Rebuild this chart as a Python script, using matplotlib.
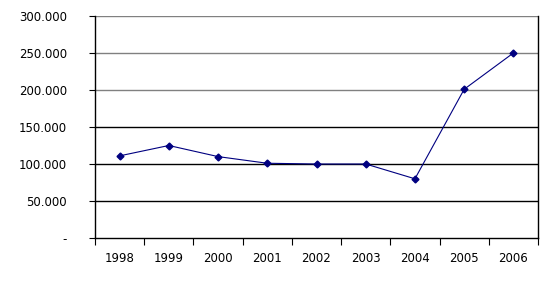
import matplotlib
matplotlib.use("Agg")
import matplotlib.pyplot as plt
from matplotlib.ticker import FuncFormatter, FixedLocator

years = ["1998", "1999", "2000", "2001", "2002", "2003", "2004", "2005", "2006"]
values = [111000, 125000, 110000, 101000, 100000, 100000, 80000, 201000, 250000]
yticks = [0, 50000, 100000, 150000, 200000, 250000, 300000]

fig = plt.figure(figsize=(5.53, 2.85), dpi=100)
ax = fig.add_axes([95/553, 1-238/285, (538-95)/553, (238-16)/285])

x = list(range(len(years)))
ax.plot(x, values, color="#000080", lw=0.8, marker="D", markersize=3.5,
        markerfacecolor="#000080", markeredgecolor="#000080", zorder=3)

ax.set_xlim(-0.5, len(years) - 0.5)
ax.set_ylim(0, 300000)
ax.set_yticks(yticks)

def fmt(v, pos):
    if v == 0:
        return "-"
    return f"{int(v):,}".replace(",", ".")
ax.yaxis.set_major_formatter(FuncFormatter(fmt))

for yv in yticks[1:]:
    c = "#808080" if yv >= 200000 else "black"
    ax.axhline(yv, color=c, lw=1.0, zorder=1)

ax.xaxis.set_major_locator(FixedLocator([i - 0.5 for i in range(len(years) + 1)]))
ax.xaxis.set_minor_locator(FixedLocator(x))
ax.set_xticklabels([])
ax.set_xticklabels(years, minor=True)
ax.tick_params(axis="x", which="major", length=5, width=0.8, direction="out", color="black")
ax.tick_params(axis="x", which="minor", length=0, pad=10, labelsize=8.5)
ax.tick_params(axis="y", length=4, width=0.8, direction="out", labelsize=8.5, pad=16)
for lbl in ax.get_yticklabels():
    lbl.set_horizontalalignment("right")

ax.spines["top"].set_visible(False)
for s in ["left", "right", "bottom"]:
    ax.spines[s].set_color("black")
    ax.spines[s].set_linewidth(1.0)

fig.savefig("out.png", dpi=100)
